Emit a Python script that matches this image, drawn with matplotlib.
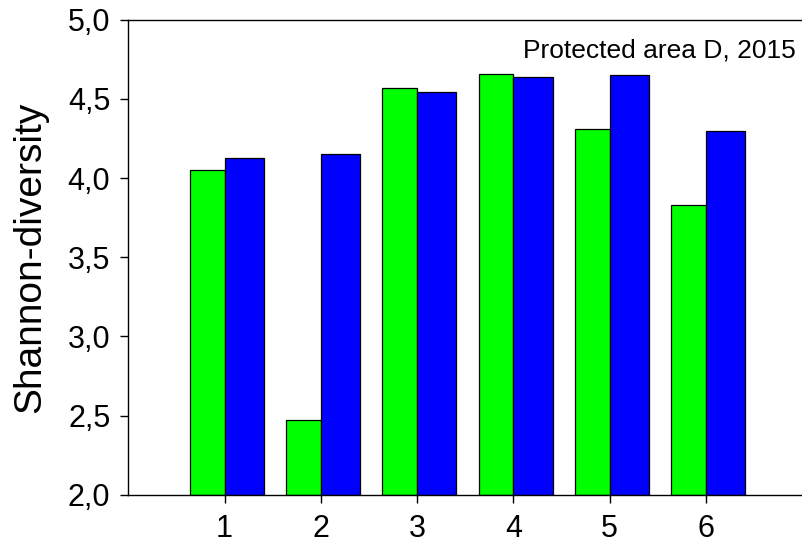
import numpy as np
import matplotlib
matplotlib.use("Agg")
import matplotlib.pyplot as plt

plt.rcParams['font.family'] = ['Liberation Sans', 'DejaVu Sans']

sites = [1, 2, 3, 4, 5, 6]
green_vals = [4.05, 2.475, 4.57, 4.66, 4.31, 3.83]
blue_vals = [4.13, 4.155, 4.545, 4.64, 4.65, 4.295]
y_ticks = [2.0, 2.5, 3.0, 3.5, 4.0, 4.5, 5.0]
y_labels = ['2,0', '2,5', '3,0', '3,5', '4,0', '4,5', '5,0']

fig = plt.figure(figsize=(8.02, 5.51), dpi=100)
ax = fig.add_axes([0.16, 0.102, 0.84, 0.862])

x = np.array(sites, dtype=float)
ax.bar(x, np.array(green_vals) - 2.0, width=-0.36, bottom=2.0, align='edge',
       color='#00ff00', edgecolor='black', linewidth=0.9)
ax.bar(x, np.array(blue_vals) - 2.0, width=0.41, bottom=2.0, align='edge',
       color='#0000ff', edgecolor='black', linewidth=0.9)

ax.set_xlim(0, 7)
ax.set_ylim(2.0, 5.0)
ax.set_xticks(sites)
ax.set_xticklabels([str(s) for s in sites])
ax.set_yticks(y_ticks)
ax.set_yticklabels(y_labels)
ax.tick_params(axis='both', labelsize=22, length=6, width=1, direction='out')
ax.tick_params(axis='y', pad=7)
ax.tick_params(axis='x', pad=8)
ax.spines['right'].set_visible(False)
for s in ['left', 'top', 'bottom']:
    ax.spines[s].set_linewidth(1)

ax.set_ylabel('Shannon-diversity', fontsize=28, labelpad=14)
ax.text(0.99, 0.935, 'Protected area D, 2015', transform=ax.transAxes,
        ha='right', va='center', fontsize=19)

fig.savefig('out.png', dpi=100)
